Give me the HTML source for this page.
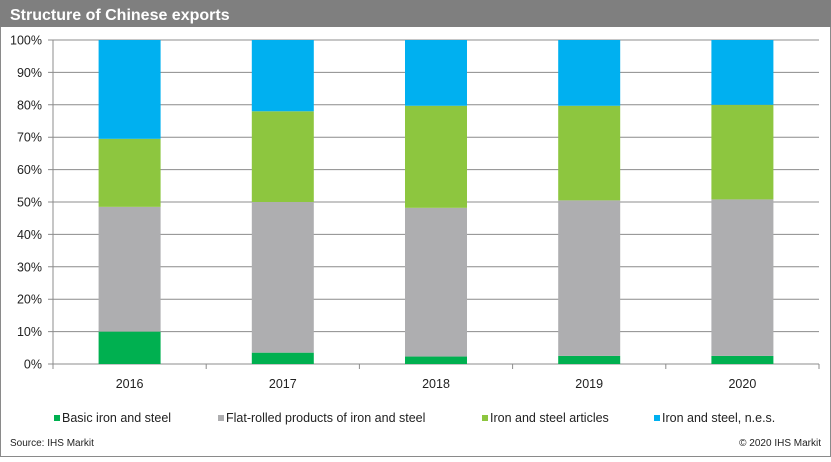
<!DOCTYPE html>
<html><head><meta charset="utf-8"><style>
body{margin:0;width:831px;height:457px;overflow:hidden;background:#fff;font-family:"Liberation Sans",sans-serif}
</style></head><body>
<svg width="831" height="457" xmlns="http://www.w3.org/2000/svg">
<rect x="0.5" y="0.5" width="830" height="456" fill="#fff" stroke="#8a8a8a"/>
<rect x="0" y="0" width="831" height="27" fill="#7f7f7f"/>
<text x="10" y="20" fill="#fff" font-size="16" font-weight="bold">Structure of Chinese exports</text>
<g id="plot"></g>
<text x="10" y="446" font-size="10" fill="#222">Source: IHS Markit</text>
<text x="821" y="446" font-size="10" fill="#222" text-anchor="end">© 2020 IHS Markit</text>
</svg>
<script>
const categories=["2016","2017","2018","2019","2020"];
const seriesNames=["Basic iron and steel","Flat-rolled products of iron and steel","Iron and steel articles","Iron and steel, n.e.s."];
const basic=[10,3.5,2.3,2.5,2.5];
const flat=[38.5,46.5,45.9,48,48.3];
const articles=[21,28,31.5,29.2,29.2];
const nes=[30.5,22,20.3,20.3,20];
const yTicks=[0,10,20,30,40,50,60,70,80,90,100];
const colors=["#00b050","#aeaeb0","#8dc63f","#00b0f0"];
const NS="http://www.w3.org/2000/svg";
const g=document.getElementById('plot');
const x0=53,x1=819,y0=364,y1=40;
const y=v=>y0-(v/100)*(y0-y1);
const band=(x1-x0)/categories.length;
const cx=i=>x0+band*(i+0.5);
function mk(t,a){const e=document.createElementNS(NS,t);for(const k in a)e.setAttribute(k,a[k]);g.appendChild(e);return e;}
yTicks.forEach(v=>{
 const l=mk('line',{x1:x0-5,x2:x1,y1:y(v),y2:y(v),stroke:'#8c8c8c','stroke-width':1});
 
 
 const t=mk('text',{x:x0-11,y:y(v)+4.5,'font-size':12.5,'text-anchor':'end',fill:'#222'});
 t.textContent=v+'%';
 
 
});
const ax=mk('line',{x1:x0,x2:x0,y1:y1,y2:y0,stroke:'#8c8c8c'});


const series=[basic,flat,articles,nes];
categories.forEach((c,i)=>{
 let acc=0;
 series.forEach((s,k)=>{
  const r=mk('rect',{x:cx(i)-31,width:62,y:y(acc+s[i]),height:y(acc)-y(acc+s[i]),fill:colors[k]});
  
  
  acc+=s[i];
 });
 const t=mk('text',{x:cx(i),y:388,'font-size':12.5,'text-anchor':'middle',fill:'#222'});
 t.textContent=c;
 
 
});
for(let i=0;i<=categories.length;i++){
 const tk=mk('line',{x1:x0+band*i,x2:x0+band*i,y1:y0,y2:y0+5,stroke:'#8c8c8c'});
 
 
}
const legX=[54,218,482,654];
seriesNames.forEach((n,k)=>{
 const r=mk('rect',{x:legX[k],y:415,width:6,height:6,fill:colors[k]});
 
 
 const t=mk('text',{x:legX[k]+8,y:422,'font-size':12.5,fill:'#222'});
 t.textContent=n;
 
 
});
</script>
</body></html>
